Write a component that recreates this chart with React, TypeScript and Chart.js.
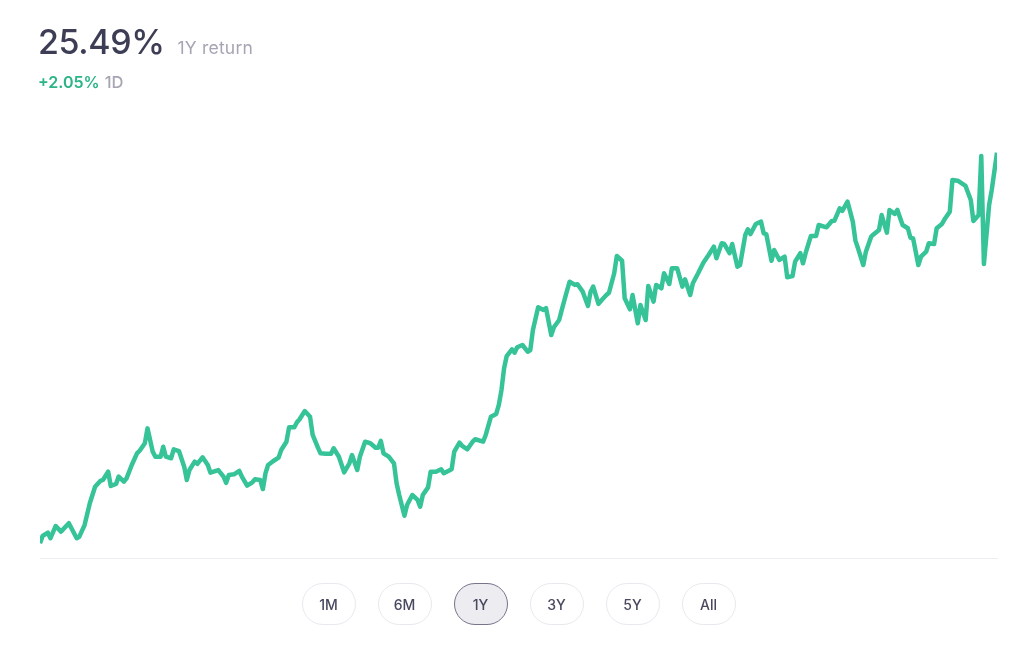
import React, { useEffect, useRef } from "react";
import { Chart, registerables } from "chart.js";

Chart.register(...registerables);

// Calendar day offset within the 1-year window
const days: number[] = [
  0, 1, 3, 4, 6, 8, 11, 14, 15, 17,
  19, 21, 23, 24, 26, 27, 29, 30, 32, 33,
  35, 37, 38, 40, 41, 43, 44, 46, 47, 48,
  50, 51, 53, 55, 56, 57, 59, 60, 62, 64,
  65, 68, 70, 71, 72, 74, 76, 77, 79, 81,
  82, 84, 85, 86, 87, 89, 91, 92, 94, 95,
  97, 98, 99, 101, 103, 104, 106, 107, 109, 111,
  112, 114, 116, 118, 119, 121, 122, 124, 126, 128,
  129, 130, 131, 133, 135, 136, 137, 139, 140, 142,
  144, 145, 146, 148, 149, 151, 153, 154, 157, 158,
  160, 161, 163, 165, 166, 169, 170, 172, 174, 175,
  176, 177, 178, 180, 181, 182, 184, 186, 187, 188,
  190, 192, 193, 195, 196, 198, 199, 201, 202, 204,
  205, 207, 209, 210, 211, 213, 214, 216, 217, 219,
  220, 222, 223, 225, 226, 228, 229, 231, 232, 234,
  235, 237, 238, 240, 241, 243, 245, 246, 248, 249,
  251, 253, 255, 257, 258, 260, 261, 263, 264, 266,
  267, 269, 270, 271, 273, 275, 276, 277, 279, 280,
  282, 284, 285, 287, 288, 290, 291, 292, 294, 296,
  297, 300, 302, 303, 305, 306, 308, 310, 311, 312,
  314, 315, 317, 318, 320, 321, 323, 324, 326, 327,
  329, 331, 332, 333, 335, 336, 338, 339, 341, 342,
  344, 345, 347, 348, 350, 353, 355, 356, 358, 359,
  360, 362, 363, 365,
];

// Cumulative return (%) since the start of the window
const returns: number[] = [
  0.0, 0.48, 0.69, 0.33, 1.13, 0.76, 1.31, 0.33, 0.43, 1.19,
  2.61, 3.69, 4.07, 4.13, 4.67, 3.74, 3.87, 4.35, 4.02, 4.24,
  5.11, 5.87, 6.04, 6.53, 7.5, 5.98, 5.65, 5.65, 6.3, 5.65,
  5.55, 6.13, 6.02, 5.0, 4.13, 4.78, 5.33, 5.18, 5.61, 5.11,
  4.61, 4.78, 4.35, 3.94, 4.46, 4.5, 4.72, 4.35, 3.76, 3.98,
  4.18, 4.13, 3.54, 4.57, 5.11, 5.37, 5.59, 6.09, 6.63, 7.57,
  7.57, 7.9, 8.09, 8.63, 8.26, 7.07, 6.24, 5.87, 5.85, 5.85,
  6.2, 5.65, 4.63, 5.22, 5.76, 4.78, 5.65, 6.63, 6.53, 6.24,
  6.24, 6.68, 5.87, 5.65, 5.22, 3.92, 3.15, 1.8, 2.5, 3.15,
  2.83, 2.39, 3.15, 3.65, 4.67, 4.67, 4.83, 4.57, 4.83, 5.98,
  6.57, 6.35, 6.13, 6.63, 6.79, 6.63, 7.07, 8.26, 8.44, 9.03,
  10.0, 11.42, 12.22, 12.66, 12.44, 12.79, 12.94, 12.5, 12.61, 13.92,
  15.4, 15.23, 15.34, 13.59, 14.1, 14.57, 15.23, 16.48, 17.07, 16.86,
  16.9, 16.42, 15.49, 16.42, 16.75, 15.62, 15.83, 16.2, 16.35, 17.62,
  18.75, 18.44, 15.99, 15.27, 16.2, 14.36, 15.55, 14.57, 16.79, 15.77,
  16.86, 16.64, 17.62, 16.92, 17.95, 17.95, 16.75, 17.23, 16.2, 16.97,
  17.62, 18.31, 18.81, 19.36, 18.6, 19.58, 19.53, 18.93, 19.53, 18.05,
  18.16, 20.12, 20.49, 20.18, 20.84, 20.99, 20.23, 20.18, 18.44, 19.14,
  18.49, 18.7, 17.36, 17.44, 18.38, 18.93, 18.27, 18.93, 20.05, 20.05,
  20.77, 20.62, 21.03, 21.05, 21.86, 21.69, 22.29, 20.99, 19.75, 19.25,
  18.16, 19.03, 20.01, 20.17, 20.45, 21.42, 20.27, 21.75, 21.49, 21.75,
  20.77, 20.56, 19.94, 19.9, 18.16, 18.7, 19.03, 19.58, 19.53, 20.56,
  20.84, 21.14, 21.64, 23.71, 23.66, 23.32, 22.4, 21.03, 21.42, 25.28,
  18.23, 22.08, 23.06, 25.49,
];

const headline = "25.49%";
const headlineLabel = "1Y return";
const dayChange = "+2.05%";
const dayLabel = "1D";
const ranges: string[] = ["1M", "6M", "1Y", "3Y", "5Y", "All"];
const selectedRange = "1Y";

const X_MIN = 0;
const X_MAX = 365;
const Y_MIN = -0.96;
const Y_MAX = 26.97;

const LINE = "#36c397";
const FONT = "Inter, 'Noto Sans', sans-serif";

export default function App() {
  const ref = useRef<HTMLCanvasElement | null>(null);

  useEffect(() => {
    document.body.style.margin = "0";
    const canvas = ref.current;
    if (!canvas) return;
    const chart = new Chart(canvas, {
      type: "line",
      data: {
        datasets: [
          {
            data: days.map((d, i) => ({ x: d, y: returns[i] })),
            borderColor: LINE,
            borderWidth: 4.5,
            pointRadius: 0,
            tension: 0,
            fill: false,
            borderJoinStyle: "round",
          },
        ],
      },
      options: {
        animation: false,
        responsive: false,
        devicePixelRatio: 1,
        layout: { padding: { left: 40, right: 27, top: 130, bottom: 90 } },
        plugins: { legend: { display: false }, tooltip: { enabled: false } },
        scales: {
          x: {
            type: "linear",
            min: X_MIN,
            max: X_MAX,
            display: true,
            grid: { display: false, drawTicks: false },
            ticks: { display: false },
            border: { display: true, color: "#eeeef2", width: 1 },
          },
          y: {
            min: Y_MIN,
            max: Y_MAX,
            display: false,
          },
        },
      },
    });
    return () => chart.destroy();
  }, []);

  return (
    <div style={{ position: "fixed", left: 0, top: 0, width: 1024, height: 648, background: "#fff", fontFamily: FONT }}>
      <canvas ref={ref} width={1024} height={648} style={{ position: "absolute", left: 0, top: 0, width: 1024, height: 648 }} />
      <div style={{ position: "absolute", left: 38, top: 22, display: "flex", alignItems: "baseline", gap: 13 }}>
        <span style={{ fontSize: 34, fontWeight: 500, color: "#3d3d56", lineHeight: "40px", letterSpacing: -0.4 }}>{headline}</span>
        <span style={{ fontSize: 17.5, fontWeight: 400, color: "#a5a5b4", letterSpacing: 0.2 }}>{headlineLabel}</span>
      </div>
      <div style={{ position: "absolute", left: 38, top: 72, display: "flex", alignItems: "baseline", gap: 5 }}>
        <span style={{ fontSize: 16, fontWeight: 600, color: "#2bb586", lineHeight: "20px" }}>{dayChange}</span>
        <span style={{ fontSize: 16.5, fontWeight: 500, color: "#a5a5b4" }}>{dayLabel}</span>
      </div>
      <div style={{ position: "absolute", left: 40, width: 957, top: 583, display: "flex", justifyContent: "center", gap: 22 }}>
        {ranges.map((r) => {
          const sel = r === selectedRange;
          return (
            <div
              key={r}
              style={{
                width: 54,
                height: 42,
                boxSizing: "border-box",
                borderRadius: 21,
                border: sel ? "1.5px solid #75758b" : "1px solid #e8e8ee",
                background: sel ? "#ececf1" : "#fff",
                display: "flex",
                alignItems: "center",
                justifyContent: "center",
                fontSize: 14,
                fontWeight: 500,
                color: "#48485f",
              }}
            >
              {r}
            </div>
          );
        })}
      </div>
    </div>
  );
}
